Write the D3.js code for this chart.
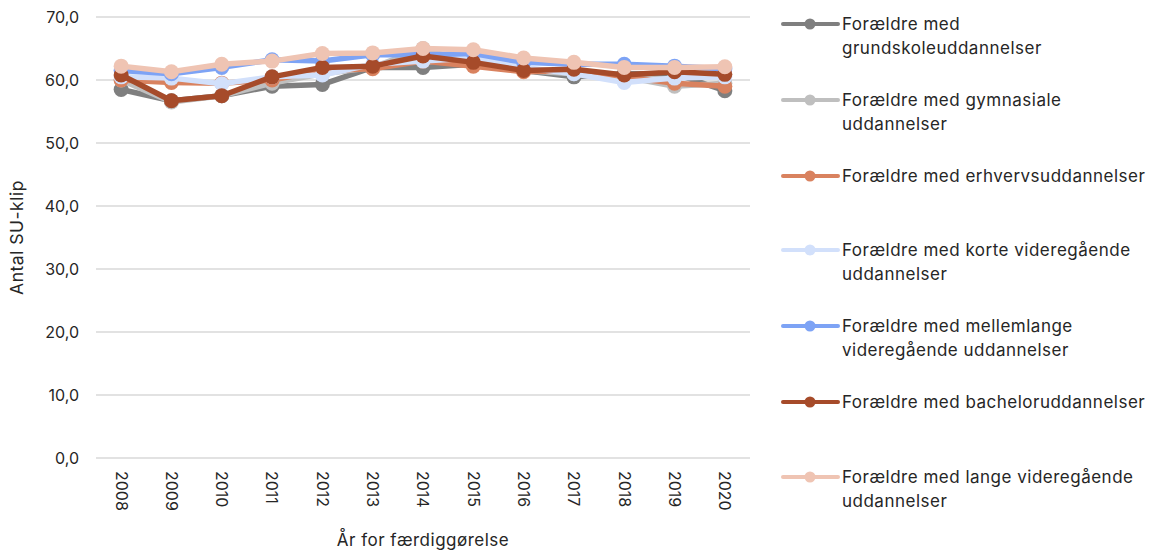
<!DOCTYPE html>
<meta charset="utf-8">
<script src="https://d3js.org/d3.v7.min.js"></script>
<style>
  body { margin: 0; background: #fff; }
  text { font-family: "Inter", "DejaVu Sans", sans-serif; fill: #262626; }
</style>
<div id="my_dataviz"></div>
<script>

// data
var years = ["2008","2009","2010","2011","2012","2013","2014","2015","2016","2017","2018","2019","2020"];
var yTicks = [0, 10, 20, 30, 40, 50, 60, 70];

var seriesNames = [
  ["Forældre med", "grundskoleuddannelser"],
  ["Forældre med gymnasiale", "uddannelser"],
  ["Forældre med erhvervsuddannelser"],
  ["Forældre med korte videregående", "uddannelser"],
  ["Forældre med mellemlange", "videregående uddannelser"],
  ["Forældre med bacheloruddannelser"],
  ["Forældre med lange videregående", "uddannelser"]
];
var seriesColors = ["#7f7f7f", "#bfbfbf", "#d9825f", "#d2e0fb", "#7da3f5", "#a64b2a", "#efc4b3"];

var grundskole  = [58.5, 56.7, 57.5, 59.0, 59.3, 62.0, 62.0, 62.5, 61.5, 60.5, 61.0, 61.0, 58.3];
var gymnasiale  = [60.0, 56.5, 57.5, 59.5, 61.0, 62.0, 65.0, 62.5, 61.5, 61.0, 60.5, 59.0, 59.5];
var erhverv     = [60.0, 59.6, 59.5, 60.0, 61.5, 61.8, 63.0, 62.2, 61.3, 61.5, 60.5, 59.5, 59.0];
var korte       = [60.5, 60.3, 59.4, 60.5, 60.8, 62.5, 63.0, 63.5, 62.0, 61.0, 59.6, 60.3, 60.5];
var mellemlange = [61.5, 61.0, 62.0, 63.2, 63.0, 64.0, 64.0, 64.2, 62.8, 62.5, 62.5, 62.2, 61.8];
var bachelor    = [60.8, 56.7, 57.5, 60.5, 62.0, 62.2, 63.8, 62.8, 61.5, 61.7, 60.8, 61.3, 60.9];
var lange       = [62.2, 61.3, 62.5, 63.0, 64.2, 64.3, 65.0, 64.8, 63.5, 62.8, 62.0, 62.0, 62.1];

var allValues = [grundskole, gymnasiale, erhverv, korte, mellemlange, bachelor, lange];

var W = 1161, H = 554;
var margin = {top: 17, left: 96, right: 411, bottom: 96};
var width = W - margin.left - margin.right,
    height = H - margin.top - margin.bottom;

var svg = d3.select("#my_dataviz")
  .append("svg")
    .attr("width", W)
    .attr("height", H);

var g = svg.append("g")
    .attr("transform", "translate(" + margin.left + "," + margin.top + ")");

var x = d3.scaleBand().domain(years).range([0, width]);
var y = d3.scaleLinear().domain([0, 70]).range([height, 0]);

// gridlines
g.selectAll(".grid")
  .data(yTicks)
  .enter().append("line")
    .attr("x1", 0).attr("x2", width)
    .attr("y1", function(d) { return y(d); })
    .attr("y2", function(d) { return y(d); })
    .attr("stroke", "#d9d9d9")
    .attr("stroke-width", 1.5);

// y axis labels
var yAxis = g.append("g")
  .call(d3.axisLeft(y).tickValues(yTicks).tickSize(0).tickPadding(17)
    .tickFormat(function(d) { return d3.format(".1f")(d).replace(".", ","); }));
yAxis.select(".domain").remove();
yAxis.selectAll("text").style("font-size", "16px").attr("fill", "#262626");

// x axis labels
var xAxis = g.append("g")
  .attr("transform", "translate(0," + height + ")")
  .call(d3.axisBottom(x).tickSize(0).tickPadding(0));
xAxis.select(".domain").remove();
xAxis.selectAll("text")
  .style("font-size", "16px")
  .attr("fill", "#262626")
  .attr("text-anchor", "start")
  .attr("dy", "0.35em")
  .attr("transform", "translate(0,13) rotate(90)");

// axis titles
svg.append("text")
  .attr("transform", "translate(23," + (margin.top + height / 2) + ") rotate(-90)")
  .attr("text-anchor", "middle")
  .style("font-size", "17.5px")
  .style("letter-spacing", "0.5px")
  .text("Antal SU-klip");

svg.append("text")
  .attr("x", margin.left + width / 2)
  .attr("y", 546)
  .attr("text-anchor", "middle")
  .style("font-size", "17px")
  .style("letter-spacing", "0.5px")
  .text("År for færdiggørelse");

// lines and markers
var line = d3.line()
  .x(function(d, i) { return x(years[i]) + x.bandwidth() / 2; })
  .y(function(d) { return y(d); });

allValues.forEach(function(vals, s) {
  g.append("path")
    .datum(vals)
    .attr("fill", "none")
    .attr("stroke", seriesColors[s])
    .attr("stroke-width", 5.5)
    .attr("stroke-linejoin", "round")
    .attr("d", line);
  g.selectAll(".pt" + s)
    .data(vals)
    .enter().append("circle")
      .attr("cx", function(d, i) { return x(years[i]) + x.bandwidth() / 2; })
      .attr("cy", function(d) { return y(d); })
      .attr("r", 7.5)
      .attr("fill", seriesColors[s]);
});

// legend
var legendY = [24, 100, 176, 250, 326, 402, 477];
var legend = svg.append("g");
seriesNames.forEach(function(lines, s) {
  var ly = legendY[s];
  legend.append("line")
    .attr("x1", 783).attr("x2", 838)
    .attr("y1", ly).attr("y2", ly)
    .attr("stroke", seriesColors[s])
    .attr("stroke-width", 4)
    .attr("stroke-linecap", "round");
  legend.append("circle")
    .attr("cx", 810).attr("cy", ly).attr("r", 5.5)
    .attr("fill", seriesColors[s]);
  var t = legend.append("text")
    .attr("x", 842)
    .attr("y", ly + 6)
    .style("font-size", "17px")
    .style("letter-spacing", "0.5px");
  lines.forEach(function(str, k) {
    t.append("tspan")
      .attr("x", 842)
      .attr("dy", k === 0 ? 0 : 24)
      .text(str);
  });
});

</script>
